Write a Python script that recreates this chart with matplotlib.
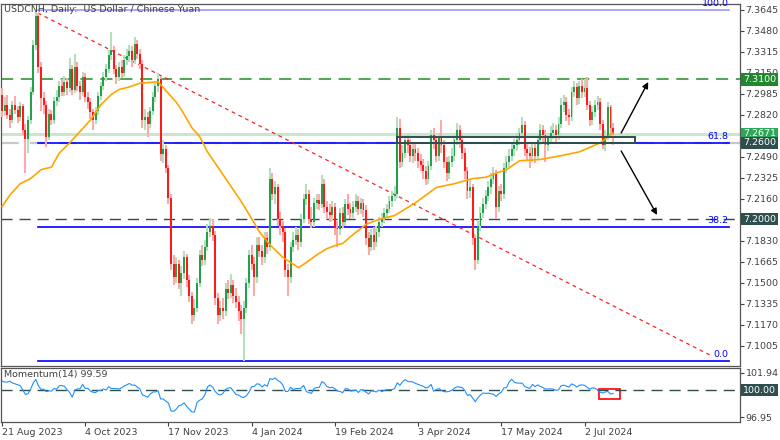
import numpy as np
import pandas as pd
import matplotlib
matplotlib.use("Agg")
import matplotlib.pyplot as plt
from matplotlib.patches import Rectangle

# USDCNH daily candles (21 Aug 2023 .. 17 Jul 2024)
first_open = 7.298
closes = [
    7.285, 7.290, 7.282, 7.278, 7.290, 7.286, 7.280, 7.289, 7.270, 7.263,
    7.278, 7.300, 7.337, 7.360, 7.320, 7.295, 7.290, 7.265, 7.283, 7.278,
    7.293, 7.296, 7.305, 7.300, 7.308, 7.303, 7.318, 7.302, 7.320, 7.305,
    7.300, 7.312, 7.296, 7.292, 7.284, 7.278, 7.285, 7.297, 7.305, 7.312,
    7.318, 7.329, 7.333, 7.318, 7.312, 7.320, 7.315, 7.325, 7.328, 7.332,
    7.325, 7.338, 7.330, 7.322, 7.278, 7.280, 7.275, 7.285, 7.296, 7.305,
    7.310, 7.251, 7.255, 7.240, 7.217, 7.165, 7.155, 7.165, 7.150, 7.158,
    7.170, 7.152, 7.140, 7.125, 7.130, 7.150, 7.172, 7.168, 7.178, 7.190,
    7.195, 7.188, 7.138, 7.125, 7.130, 7.128, 7.145, 7.142, 7.148, 7.140,
    7.135, 7.128, 7.122, 7.130, 7.150, 7.172, 7.165, 7.155, 7.180, 7.175,
    7.170, 7.185, 7.178, 7.232, 7.220, 7.225, 7.200, 7.195, 7.190, 7.160,
    7.155, 7.178, 7.184, 7.188, 7.182, 7.200, 7.216, 7.220, 7.200, 7.198,
    7.213, 7.215, 7.212, 7.228, 7.210, 7.206, 7.203, 7.210, 7.193, 7.192,
    7.205, 7.198, 7.212, 7.208, 7.205, 7.210, 7.214, 7.208, 7.213, 7.207,
    7.185, 7.178, 7.188, 7.182, 7.190, 7.198, 7.200, 7.205, 7.208, 7.214,
    7.218, 7.220, 7.272, 7.245, 7.252, 7.262, 7.258, 7.250, 7.255, 7.252,
    7.246, 7.243, 7.238, 7.232, 7.242, 7.266, 7.262, 7.250, 7.264, 7.258,
    7.245, 7.236, 7.245, 7.250, 7.262, 7.270, 7.262, 7.252, 7.238, 7.222,
    7.225, 7.185, 7.168, 7.195, 7.205, 7.212, 7.218, 7.225, 7.232, 7.236,
    7.210, 7.222, 7.220, 7.240, 7.245, 7.250, 7.255, 7.258, 7.262, 7.268,
    7.274, 7.255, 7.252, 7.250, 7.256, 7.250, 7.262, 7.270, 7.266, 7.258,
    7.264, 7.268, 7.270, 7.266, 7.275, 7.290, 7.292, 7.282, 7.280, 7.300,
    7.304, 7.295, 7.305, 7.300, 7.303, 7.290, 7.278, 7.284, 7.290, 7.292,
    7.275, 7.258, 7.265, 7.288, 7.272, 7.2671,
]
highs = [
    7.303, 7.296, 7.298, 7.287, 7.293, 7.297, 7.289, 7.292, 7.291, 7.275,
    7.281, 7.304, 7.341, 7.3645, 7.362, 7.324, 7.300, 7.293, 7.287, 7.286,
    7.296, 7.302, 7.309, 7.310, 7.313, 7.311, 7.327, 7.321, 7.330, 7.324,
    7.309, 7.316, 7.315, 7.300, 7.295, 7.287, 7.288, 7.300, 7.308, 7.316,
    7.322, 7.333, 7.347, 7.336, 7.321, 7.324, 7.325, 7.329, 7.334, 7.337,
    7.336, 7.343, 7.341, 7.334, 7.325, 7.287, 7.284, 7.288, 7.300, 7.309,
    7.315, 7.313, 7.262, 7.258, 7.243, 7.220, 7.172, 7.170, 7.168, 7.163,
    7.175, 7.173, 7.156, 7.143, 7.137, 7.154, 7.176, 7.180, 7.184, 7.196,
    7.200, 7.200, 7.191, 7.142, 7.136, 7.138, 7.150, 7.152, 7.157, 7.152,
    7.146, 7.140, 7.133, 7.136, 7.154, 7.176, 7.180, 7.170, 7.186, 7.186,
    7.180, 7.190, 7.190, 7.240, 7.236, 7.230, 7.228, 7.206, 7.199, 7.193,
    7.165, 7.182, 7.190, 7.194, 7.192, 7.204, 7.220, 7.228, 7.223, 7.210,
    7.217, 7.220, 7.220, 7.235, 7.232, 7.214, 7.212, 7.214, 7.213, 7.199,
    7.209, 7.210, 7.216, 7.220, 7.213, 7.214, 7.220, 7.218, 7.217, 7.216,
    7.211, 7.190, 7.192, 7.194, 7.195, 7.202, 7.205, 7.209, 7.212, 7.218,
    7.222, 7.226, 7.280, 7.279, 7.258, 7.266, 7.266, 7.263, 7.260, 7.259,
    7.256, 7.251, 7.247, 7.242, 7.246, 7.270, 7.272, 7.265, 7.268, 7.278,
    7.262, 7.249, 7.250, 7.256, 7.266, 7.276, 7.274, 7.266, 7.256, 7.241,
    7.232, 7.228, 7.188, 7.199, 7.210, 7.217, 7.223, 7.230, 7.236, 7.241,
    7.239, 7.226, 7.228, 7.244, 7.250, 7.255, 7.260, 7.263, 7.267, 7.272,
    7.280, 7.277, 7.260, 7.257, 7.261, 7.260, 7.266, 7.275, 7.274, 7.270,
    7.268, 7.273, 7.276, 7.274, 7.280, 7.295, 7.298, 7.296, 7.287, 7.304,
    7.309, 7.307, 7.309, 7.310, 7.310, 7.312, 7.293, 7.289, 7.294, 7.297,
    7.295, 7.278, 7.270, 7.292, 7.290, 7.276,
]
lows = [
    7.280, 7.281, 7.279, 7.272, 7.276, 7.283, 7.276, 7.277, 7.266, 7.236,
    7.252, 7.275, 7.298, 7.333, 7.315, 7.285, 7.283, 7.257, 7.262, 7.274,
    7.275, 7.289, 7.292, 7.297, 7.297, 7.298, 7.300, 7.298, 7.299, 7.301,
    7.294, 7.297, 7.292, 7.287, 7.279, 7.270, 7.275, 7.282, 7.294, 7.302,
    7.309, 7.315, 7.325, 7.314, 7.306, 7.309, 7.311, 7.312, 7.321, 7.324,
    7.320, 7.322, 7.326, 7.318, 7.272, 7.270, 7.265, 7.272, 7.282, 7.292,
    7.300, 7.246, 7.244, 7.236, 7.212, 7.160, 7.148, 7.150, 7.145, 7.140,
    7.153, 7.147, 7.135, 7.118, 7.120, 7.127, 7.147, 7.163, 7.164, 7.175,
    7.186, 7.183, 7.133, 7.118, 7.120, 7.122, 7.124, 7.137, 7.138, 7.134,
    7.130, 7.120, 7.110, 7.089, 7.126, 7.146, 7.160, 7.140, 7.150, 7.170,
    7.164, 7.166, 7.173, 7.175, 7.215, 7.212, 7.195, 7.188, 7.182, 7.155,
    7.140, 7.150, 7.174, 7.180, 7.176, 7.178, 7.197, 7.211, 7.196, 7.193,
    7.194, 7.208, 7.207, 7.209, 7.205, 7.200, 7.198, 7.199, 7.188, 7.178,
    7.188, 7.193, 7.195, 7.203, 7.200, 7.201, 7.206, 7.203, 7.204, 7.202,
    7.180, 7.172, 7.175, 7.176, 7.178, 7.186, 7.194, 7.197, 7.201, 7.205,
    7.210, 7.214, 7.217, 7.240, 7.241, 7.248, 7.252, 7.245, 7.244, 7.246,
    7.240, 7.238, 7.232, 7.227, 7.228, 7.239, 7.255, 7.245, 7.246, 7.252,
    7.240, 7.230, 7.232, 7.241, 7.246, 7.258, 7.256, 7.247, 7.232, 7.216,
    7.217, 7.180, 7.160, 7.165, 7.191, 7.201, 7.208, 7.214, 7.220, 7.228,
    7.200, 7.206, 7.214, 7.216, 7.236, 7.241, 7.246, 7.250, 7.254, 7.258,
    7.264, 7.250, 7.246, 7.240, 7.245, 7.244, 7.247, 7.258, 7.261, 7.245,
    7.254, 7.260, 7.263, 7.261, 7.262, 7.272, 7.284, 7.277, 7.274, 7.277,
    7.296, 7.290, 7.291, 7.295, 7.296, 7.286, 7.273, 7.274, 7.280, 7.286,
    7.270, 7.255, 7.254, 7.262, 7.266, 7.258,
]

# orange moving average, read at a few bars
ma_idx = [0, 3, 7, 11, 15, 19, 22, 26, 30, 34, 38, 42, 45, 49, 53, 60, 67, 69,
          73, 76, 79, 86, 92, 97, 99, 103, 108, 114, 117, 121, 125, 129, 131, 135,
          140, 145, 151, 159, 167, 174, 181, 186, 191, 194, 199, 207, 215, 222, 230, 235]
ma_val = [7.210, 7.219, 7.228, 7.232, 7.239, 7.241, 7.252, 7.260, 7.269, 7.278,
          7.290, 7.298, 7.302, 7.304, 7.307, 7.308, 7.292, 7.286, 7.272, 7.265,
          7.253, 7.232, 7.214, 7.197, 7.190, 7.180, 7.170, 7.162, 7.166, 7.172,
          7.177, 7.180, 7.181, 7.188, 7.196, 7.200, 7.203, 7.213, 7.225, 7.228,
          7.232, 7.233, 7.237, 7.239, 7.246, 7.247, 7.250, 7.253, 7.260, 7.268]

# momentum(14) for the first bars (needs history before the chart start)
mom_start = [101.0, 100.9, 100.9, 101.0, 100.8, 100.7, 100.6, 100.5, 100.0, 99.5,
             99.6, 100.1, 100.8, 101.2]
mom_label = "Momentum(14) 99.59"

price_ticks = [7.1005, 7.1170, 7.1335, 7.1500, 7.1665, 7.1830, 7.1995, 7.2160,
               7.2325, 7.2490, 7.2655, 7.2820, 7.2985, 7.3150, 7.3315, 7.3480, 7.3645]
hidden_ticks = [7.1995, 7.2655]   # sit under the price boxes
fib_levels = {"100.0": 7.3645, "61.8": 7.2600, "38.2": 7.1940, "0.0": 7.0886}

closes = np.array(closes)
highs = np.array(highs)
lows = np.array(lows)
opens = np.r_[first_open, closes[:-1]]
n = len(closes)
idx = np.arange(n)

days = pd.bdate_range("2023-08-21", periods=n + 5)
days = days[~days.isin(pd.to_datetime(["2023-12-25", "2024-01-01"]))][:n]
lab_idx = list(range(0, n, 32))
lab_txt = [f"{days[i].day} {days[i].strftime('%b %Y')}" for i in lab_idx]

mom = np.r_[mom_start, closes[14:] / closes[:-14] * 100]

plt.rcParams['font.family'] = ['DejaVu Sans']
fs = 6.8
txtc = '#404040'
slate = '#2f4f4f'

fig = plt.figure(figsize=(7.8, 4.4), dpi=100)
ax = fig.add_axes([1/780, 1 - 366/440, 739/780, 362/440])
axm = fig.add_axes([1/780, 1 - 422/440, 739/780, 54/440])

xl = (-0.4, 283.8)

# horizontal levels
ax.axhline(7.3100, color='#228b22', lw=1.1, dashes=(8, 5), zorder=1)
ax.axhline(7.2000, color=slate, lw=1.0, dashes=(8, 5), zorder=1)
ax.axhline(7.2600, color='#c8c8c8', lw=1.6, dashes=(8, 5), zorder=1)
ax.axhline(7.2671, color='#c9e6ce', lw=2.2, zorder=1)

# fibonacci lines
for name, lv in fib_levels.items():
    col = '#9a9aff' if name == "100.0" else '#0000ff'
    ax.plot([13.8, 279.6], [lv, lv], color=col, lw=1.2, zorder=2)
    ax.text(279.4, lv + 0.0015, name, color='#0000ff', fontsize=fs,
            ha='right', va='bottom', zorder=6)

# trend line
ax.plot([13.8, 273], [7.3621, 7.0925], color='#ff2020', lw=0.9,
        dashes=(3, 3), zorder=2)

# candles
up = closes >= opens
wick_col = np.where(up, '#b5dfbe', '#ffaaaa')
body_col = np.where(up, '#22a04a', '#ff1a1a')
ax.vlines(idx, lows, highs, colors=wick_col, lw=1.5, zorder=3)
bot = np.minimum(opens, closes)
hgt = np.maximum(np.abs(closes - opens), 0.0007)
ax.bar(idx, hgt, bottom=bot, width=0.75, color=body_col, lw=0, zorder=4)

# moving average
ax.plot(ma_idx, ma_val, color='#ffa500', lw=1.2, zorder=5)

# box and arrows
ax.add_patch(Rectangle((152.0, 7.2600), 91.4, 0.0046, fill=False,
                       ec=slate, lw=1.4, zorder=6))
arr = dict(arrowstyle='-|>', color='black', lw=1.0, mutation_scale=9,
           shrinkA=0, shrinkB=0)
ax.annotate('', xy=(248.5, 7.3079), xytext=(238.1, 7.2678), arrowprops=arr, zorder=7)
ax.annotate('', xy=(251.9, 7.2034), xytext=(238.1, 7.2537), arrowprops=arr, zorder=7)

ax.set_xlim(*xl)
ax.set_ylim(7.0847, 7.3692)
ax.set_xticks([])
ax.yaxis.tick_right()
ax.set_yticks(price_ticks)
ax.set_yticklabels(["" if t in hidden_ticks else f"{t:.4f}" for t in price_ticks])
ax.tick_params(axis='y', labelsize=fs, colors=txtc, length=3, width=0.8, pad=1)

ax.text(0.004, 0.997, "USDCNH, Daily:  US Dollar / Chinese Yuan", transform=ax.transAxes,
        fontsize=fs, color=txtc, ha='left', va='top')

yt = ax.get_yaxis_transform()
for lv, col in [(7.3100, '#22882f'), (7.2671, '#2fa65a'), (7.2600, slate), (7.2000, slate)]:
    ax.text(1.004, lv, f"{lv:.4f}", transform=yt, fontsize=fs, color='white',
            ha='left', va='center', clip_on=False, zorder=10,
            bbox=dict(boxstyle='square,pad=0.18', fc=col, ec='none'))

# momentum panel
axm.axhline(100, color=slate, lw=1.0, dashes=(8, 5))
axm.plot(idx, mom, color='#1e90ff', lw=0.8)
axm.add_patch(Rectangle((229.6, 99.0), 8.1, 1.1, fill=False, ec='red', lw=1.2))
axm.set_xlim(*xl)
axm.set_ylim(96.41, 102.48)
axm.yaxis.tick_right()
axm.set_yticks([96.95, 101.94])
axm.set_yticklabels(["96.95", "101.94"])
axm.tick_params(axis='y', labelsize=fs, colors=txtc, length=3, width=0.8, pad=1)
axm.set_xticks(lab_idx)
axm.set_xticklabels(lab_txt)
for t in axm.get_xticklabels():
    t.set_ha('left')
axm.tick_params(axis='x', labelsize=fs, colors=txtc, length=3, width=0.8, pad=1)
axm.text(0.004, 0.96, mom_label, transform=axm.transAxes,
         fontsize=fs, color=txtc, ha='left', va='top')
axm.text(1.004, 100, "100.00", transform=axm.get_yaxis_transform(), fontsize=fs,
         color='white', ha='left', va='center', clip_on=False, zorder=10,
         bbox=dict(boxstyle='square,pad=0.18', fc=slate, ec='none'))

for a in (ax, axm):
    for s in a.spines.values():
        s.set_color('#555555')
        s.set_linewidth(0.9)

fig.savefig("out.png", dpi=100)
